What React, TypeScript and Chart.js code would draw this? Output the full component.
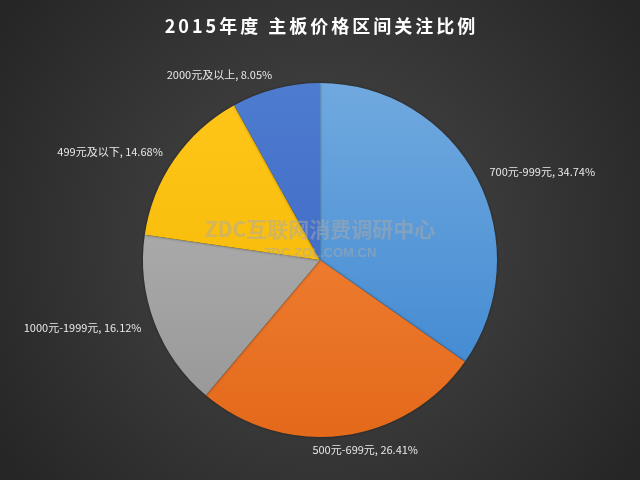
import React, { useEffect, useRef } from "react";
import { Chart, registerables } from "chart.js";

Chart.register(...registerables);

const TITLE = "2015年度 主板价格区间关注比例";
const categories = ["700元-999元", "500元-699元", "1000元-1999元", "499元及以下", "2000元及以上"];
const values = [34.74, 26.41, 16.12, 14.68, 8.05];
const colorsTop = ["#70a9df", "#f68c42", "#b8b8b8", "#ffc61a", "#4d7ccf"];
const colorsBottom = ["#3a84cf", "#e4691a", "#959595", "#f2b600", "#3a60c2"];
const WATERMARK_MAIN = "ZDC互联网消费调研中心";
const WATERMARK_SUB = "ZDC.ZOL.COM.CN";

const FONT = '"Noto Sans CJK SC", "Noto Sans", sans-serif';

const bgPlugin = {
  id: "bg",
  beforeDraw(chart: any) {
    const { ctx, width, height } = chart;
    ctx.save();
    const g = ctx.createRadialGradient(width / 2, height / 2, 0, width / 2, height / 2, width * 0.6);
    g.addColorStop(0, "#4a4a4a");
    g.addColorStop(1, "#262626");
    ctx.fillStyle = g;
    ctx.fillRect(0, 0, width, height);
    ctx.restore();
  },
  beforeDatasetsDraw(chart: any) {
    const ctx = chart.ctx;
    ctx.save();
    ctx.shadowColor = "rgba(0,0,0,0.45)";
    ctx.shadowBlur = 3;
  },
  afterDatasetsDraw(chart: any) {
    const ctx = chart.ctx;
    ctx.restore();
    const meta = chart.getDatasetMeta(0);
    ctx.save();
    ctx.font = `11px ${FONT}`;
    ctx.fillStyle = "#e8e8e8";
    ctx.textBaseline = "middle";
    meta.data.forEach((arc: any, i: number) => {
      const p = arc.getProps(["startAngle", "endAngle", "x", "y", "outerRadius"], true);
      const mid = (p.startAngle + p.endAngle) / 2;
      const r = p.outerRadius + 14;
      let x = p.x + Math.cos(mid) * r;
      const y = p.y + Math.sin(mid) * r;
      const c = Math.cos(mid);
      if (Math.abs(c) < 0.2) {
        ctx.textAlign = "center";
        x += c * 160;
      } else if (c > 0) {
        ctx.textAlign = "left";
      } else {
        ctx.textAlign = "right";
      }
      ctx.fillText(`${categories[i]}, ${values[i].toFixed(2)}%`, x, y);
    });
    ctx.restore();
  },
  afterDraw(chart: any) {
    const { ctx, width } = chart;
    const meta = chart.getDatasetMeta(0);
    const cx = meta.data[0].x;
    const cy = meta.data[0].y;
    ctx.save();
    // title
    ctx.fillStyle = "#ffffff";
    ctx.font = `bold 18px ${FONT}`;
    (ctx as any).letterSpacing = "3px";
    ctx.textAlign = "center";
    ctx.textBaseline = "middle";
    ctx.fillText(TITLE, width / 2 + 1.5, 26);
    (ctx as any).letterSpacing = "0px";
    // watermark
    ctx.fillStyle = "rgba(170,170,170,0.5)";
    ctx.font = `bold 21px ${FONT}`;
    ctx.fillText(WATERMARK_MAIN, cx, cy - 31);
    ctx.font = `bold 13px "Liberation Sans", Arial, sans-serif`;
    ctx.fillText(WATERMARK_SUB, cx, cy - 7);
    ctx.restore();
  },
};

export default function App() {
  const ref = useRef<HTMLCanvasElement>(null);
  useEffect(() => {
    document.body.style.margin = "0";
    const canvas = ref.current!;
    const chart = new Chart(canvas, {
      type: "pie",
      data: {
        labels: categories,
        datasets: [
          {
            data: values,
            borderWidth: 0,
            backgroundColor: (ctx: any) => {
              const i = ctx.dataIndex;
              const area = ctx.chart.chartArea;
              if (!area) return colorsTop[i];
              const g = ctx.chart.ctx.createLinearGradient(0, area.top, 0, area.bottom);
              g.addColorStop(0, colorsTop[i]);
              g.addColorStop(1, colorsBottom[i]);
              return g;
            },
          },
        ],
      },
      options: {
        responsive: false,
        animation: false,
        layout: { padding: { top: 83, bottom: 43, left: 0, right: 0 } },
        plugins: {
          legend: { display: false },
          title: { display: false },
          tooltip: { enabled: false },
        },
      },
      plugins: [bgPlugin],
    });
    return () => chart.destroy();
  }, []);
  return <canvas ref={ref} width={640} height={480} style={{ display: "block" }} />;
}
